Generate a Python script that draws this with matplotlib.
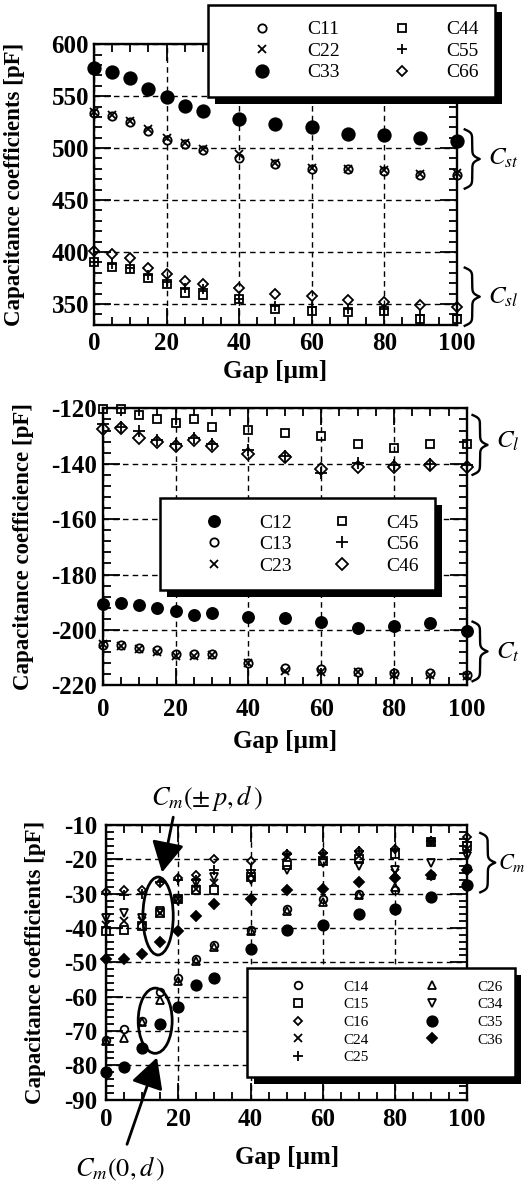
import numpy as np
import matplotlib.pyplot as plt
import matplotlib.patheffects as pe
import matplotlib.transforms as mtrans
from matplotlib.ticker import MultipleLocator, AutoMinorLocator
from matplotlib.patches import Ellipse
from matplotlib.lines import Line2D

plt.rcParams['font.family'] = ['Liberation Serif', 'DejaVu Serif']
plt.rcParams['mathtext.fontset'] = 'stix'
plt.rcParams['axes.unicode_minus'] = False

gap = [0, 5, 10, 15, 20, 25, 30, 40, 50, 60, 70, 80, 90, 100]

# self capacitances (top panel)
c11 = [534, 531, 525.5, 516.5, 507.5, 503.5, 498, 490.5, 484.5, 480, 480, 478, 474.5, 474.5]
c22 = [535, 532, 526.5, 518, 509.5, 504.5, 499.5, 494, 485.5, 480.5, 480, 478.5, 475, 476]
c33 = [577.5, 573.5, 567, 556.5, 549.5, 540.5, 536, 528, 523, 520, 514, 512.5, 510, 507]
c44 = [390, 386, 383.5, 375, 369, 361, 359, 355, 345, 343.5, 342, 343.5, 335.5, 335.5]
c55 = [390, 388, 385, 378, 371, 365, 364, 355, 348, 347, 345, 345, 339, 339]
c66 = [401, 398.5, 394, 385, 379, 372, 369, 365.5, 359.5, 357.5, 354, 351.5, 349.5, 347.5]

# same-layer couplings (middle panel)
c12 = [-190.8, -190.2, -191, -192, -193.2, -194.6, -194, -195.2, -195.6, -197.3, -199.4, -198.6, -197.6, -200.4]
c13 = [-205.4, -205.4, -206.4, -207.2, -208.8, -208.8, -208.8, -212, -213.8, -214, -215, -215.4, -215.4, -216.2]
c23 = [-205.2, -205.8, -206.8, -207.8, -209.5, -209.3, -209, -212, -214.8, -215, -215.2, -216.2, -216.2, -216.8]
c45 = [-120.4, -120.2, -122.4, -124, -125.4, -124, -126.6, -127.8, -129, -130, -133, -134.3, -133, -133]
c56 = [-125.7, -126.6, -128, -131.3, -132.9, -130.7, -133, -135, -137.3, -143.3, -139.7, -140.3, -140, -140.3]
c46 = [-127.5, -127, -130.7, -132, -133.7, -131.3, -133.7, -136.4, -137.7, -141.9, -141, -141, -140.3, -141.1]

# mutual couplings (bottom panel)
c14 = [-72.5, -69.5, -67, -58.5, -54.5, -49, -45, -40.5, -34.5, -31.5, -30, -29, -24.5, -22.5]
c15 = [-41, -40.5, -39.5, -35.5, -31.5, -29, -29, -25, -21.5, -20.5, -20, -18.5, -15, -16]
c16 = [-29.5, -29, -29, -27, -25.5, -24.5, -20, -20.5, -18.5, -18, -17.5, -17, -14.5, -13.5]
c24 = [-39, -38, -38, -35.5, -31.5, -28.5, -27, -24.5, -19, -19, -19, -24, -15, -17]
c25 = [-30, -30.5, -30, -26.5, -26, -26, -23, -23, -18.5, -18, -17.5, -17, -14.5, -15]
c26 = [-73, -72, -67.5, -61, -55.5, -49.5, -45.5, -41, -35, -32.5, -30.5, -28, -24.5, -22.5]
c34 = [-37, -35.5, -37, -35, -32, -27, -25, -26, -23, -21, -22, -23, -21, -19]
c35 = [-82, -80.5, -75, -68, -63, -56.5, -54.5, -46, -40.5, -39, -36, -34.5, -31, -27.5]
c36 = [-49, -49, -47.5, -44, -41, -36.5, -33, -31.5, -29, -28.5, -26.5, -25.5, -24.5, -23]

fig = plt.figure(figsize=(5.25, 11.94), dpi=100)
ax1 = fig.add_axes([0.179, 0.728, 0.691, 0.235])
ax2 = fig.add_axes([0.196, 0.426, 0.693, 0.232])
ax3 = fig.add_axes([0.202, 0.079, 0.688, 0.230])


def pts(ax, y, marker, label, filled=False, ms=6):
    ax.plot(gap, y, ls='none', marker=marker, ms=ms, mfc='k' if filled else 'none',
            mec='k', mew=1.3, color='k', label=label, clip_on=False, zorder=3)


def style(ax, ylo, yhi, ystep, yminor, xpad, ypad):
    ax.set_xlim(0, 100)
    ax.set_ylim(ylo, yhi)
    ax.xaxis.set_major_locator(MultipleLocator(20))
    ax.xaxis.set_minor_locator(AutoMinorLocator(4))
    ax.yaxis.set_major_locator(MultipleLocator(ystep))
    ax.yaxis.set_minor_locator(AutoMinorLocator(yminor))
    ax.tick_params(which='both', direction='in', top=True, right=True, width=1.3, labelsize=18)
    ax.tick_params(which='major', length=12)
    ax.tick_params(which='minor', length=6)
    ax.tick_params(axis='x', pad=xpad)
    ax.tick_params(axis='y', pad=ypad)
    for lab in ax.get_xticklabels() + ax.get_yticklabels():
        lab.set_fontweight('bold')
    ax.grid(True, which='major', ls=(0, (4, 3)), lw=1, color='k')
    for s in ax.spines.values():
        s.set_linewidth(1.7)


def labels(ax, ytext, xlab_y, ylab_x):
    ax.set_xlabel('Gap [µm]', fontsize=18, fontweight='bold')
    ax.set_ylabel(ytext, fontsize=16.5, fontweight='bold')
    ax.xaxis.set_label_coords(0.5, xlab_y)
    ax.yaxis.set_label_coords(ylab_x, 0.5)


def legend(ax, anchor, fs, hl, htp, cs, ls):
    leg = ax.legend(ncol=2, loc='upper left', bbox_to_anchor=anchor, borderaxespad=0,
                    fontsize=fs, handlelength=hl, handletextpad=htp, columnspacing=cs,
                    labelspacing=ls, borderpad=0.8, fancybox=False, edgecolor='k',
                    framealpha=1, numpoints=1)
    leg.get_frame().set_linewidth(1.8)
    leg.get_frame().set_path_effects([pe.SimplePatchShadow(offset=(5, -5), shadow_rgbFace='k', alpha=1),
                                      pe.Normal()])
    leg.set_zorder(10)


def brace(ax, y0, y1, xa, label, ly, depth=15, dx=0.065, fs=18):
    d0 = ax.transData.transform((0, y0))[1]
    d1 = ax.transData.transform((0, y1))[1]
    xd = ax.transAxes.transform((xa, 0))[0]
    half = (d1 - d0) / 2
    s = np.linspace(0, half, 120)
    sig = lambda v: 1 / (1 + np.exp(-v))
    off = depth * (sig(0.6 * s) + sig(0.6 * (s - half)) - 0.5)
    ys = np.concatenate([d0 + s, d1 - s[::-1]])
    xs = xd + np.concatenate([off, off[::-1]])
    p = fig.transFigure.inverted().transform(np.column_stack([xs, ys]))
    fig.add_artist(Line2D(p[:, 0], p[:, 1], color='k', lw=1.7, transform=fig.transFigure))
    tr = mtrans.blended_transform_factory(ax.transAxes, ax.transData)
    ax.text(xa + dx, ly, label, transform=tr, fontsize=fs, va='center', ha='left', clip_on=False)


# top panel
pts(ax1, c11, 'o', 'C11', ms=6)
pts(ax1, c22, 'x', 'C22', ms=6)
pts(ax1, c33, 'o', 'C33', filled=True, ms=9)
pts(ax1, c44, 's', 'C44', ms=6)
pts(ax1, c55, '+', 'C55', ms=7)
pts(ax1, c66, 'D', 'C66', ms=5)
style(ax1, 330, 600, 50, 5, 5, 3.5)
labels(ax1, 'Capacitance coefficients [pF]', -0.125, -0.19)
legend(ax1, (0.314, 1.139), 14, 4, 0.3, 1.2, 0.2)

# middle panel
pts(ax2, c12, 'o', 'C12', filled=True, ms=8)
pts(ax2, c13, 'o', 'C13', ms=6)
pts(ax2, c23, 'x', 'C23', ms=6)
pts(ax2, c45, 's', 'C45', ms=6)
pts(ax2, c56, '+', 'C56', ms=8)
pts(ax2, c46, 'D', 'C46', ms=6)
style(ax2, -220, -120, 20, 5, 9, 4)
labels(ax2, 'Capacitance coefficience [pF]', -0.162, -0.19)
legend(ax2, (0.157, 0.675), 14, 4, 0.3, 0.57, 0.2)

# bottom panel
pts(ax3, c14, 'o', 'C14', ms=5.5)
pts(ax3, c15, 's', 'C15', ms=5.5)
pts(ax3, c16, 'D', 'C16', ms=4.5)
pts(ax3, c24, 'x', 'C24', ms=5.5)
pts(ax3, c25, '+', 'C25', ms=6.5)
pts(ax3, c26, '^', 'C26', ms=5.5)
pts(ax3, c34, 'v', 'C34', ms=5.5)
pts(ax3, c35, 'o', 'C35', filled=True, ms=7.5)
pts(ax3, c36, 'D', 'C36', filled=True, ms=5)
style(ax3, -90, -10, 10, 5, 6, 6)
labels(ax3, 'Capacitance coefficients [pF]', -0.167, -0.165)
legend(ax3, (0.391, 0.48), 11, 5.1, 0.4, 1.57, 0.26)

# ellipses and arrows marking the two C_m families
ax3.add_patch(Ellipse((14.4, -36.5), 8.4, 22.7, fill=False, lw=2, ec='k', zorder=4))
ax3.add_patch(Ellipse((13.6, -67), 9.4, 19, fill=False, lw=2, ec='k', zorder=4))
arrow = dict(arrowstyle='-|>,head_length=0.75,head_width=0.4', mutation_scale=25, lw=2,
             color='k', shrinkA=0, shrinkB=0)
ax3.annotate('', xy=(15.5, -23.8), xytext=(18.6, -7.7), arrowprops=arrow, annotation_clip=False)
ax3.annotate('', xy=(14.1, -77.7), xytext=(5.8, -103), arrowprops=arrow, annotation_clip=False)
ax3.text(28, -2, r'$C_m(\pm\, p, d\,)$', fontsize=19, ha='center', va='center', clip_on=False)
ax3.text(3.9, -110.3, r'$C_m(0, d\,)$', fontsize=19, ha='center', va='center', clip_on=False)

# braces
brace(ax1, 461, 518, 1.022, '$C_{st}$', 490)
brace(ax1, 329, 385, 1.022, '$C_{sl}$', 356)
brace(ax2, -144, -122.4, 1.016, '$C_{l}$', -132)
brace(ax2, -218.5, -197, 1.016, '$C_{t}$', -208)
brace(ax3, -29.6, -12.3, 1.036, '$C_{m}$', -21, dx=0.05, fs=16)

fig.savefig('out.png', dpi=100)
